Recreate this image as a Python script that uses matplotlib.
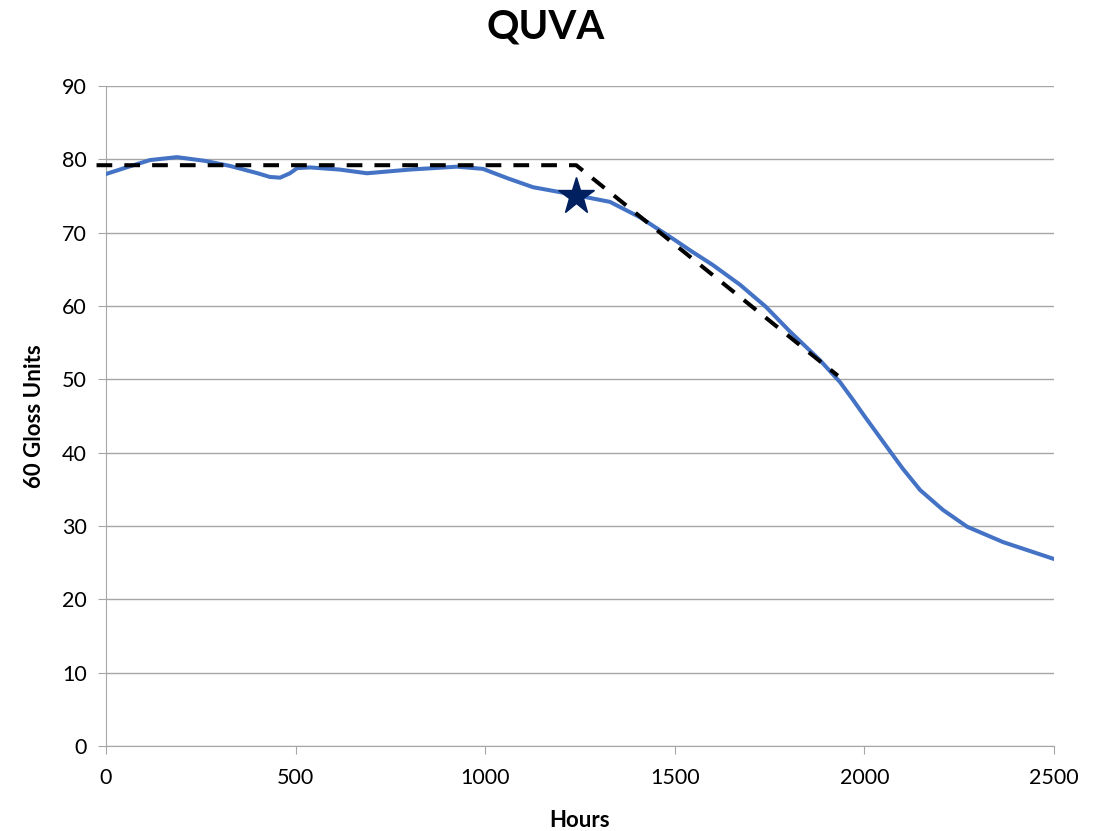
import matplotlib
matplotlib.use("Agg")
import matplotlib.pyplot as plt

plt.rcParams['font.family'] = ['Lato', 'DejaVu Sans']

# gloss curve
hours = [0, 60, 116, 187, 260, 327, 400, 432, 459, 485, 504, 538, 617, 688,
         800, 925, 994, 1060, 1126, 1200, 1240, 1329, 1408, 1500, 1540, 1600,
         1672, 1740, 1804, 1883, 1936, 1970, 2000, 2059, 2100, 2147, 2207,
         2271, 2366, 2500]
gloss = [78.0, 79.0, 79.9, 80.3, 79.8, 79.1, 78.1, 77.6, 77.5, 78.1, 78.8,
         78.9, 78.6, 78.1, 78.6, 79.0, 78.7, 77.4, 76.2, 75.5, 75.1, 74.2,
         72.1, 69.0, 67.6, 65.6, 62.9, 59.9, 56.5, 52.6, 49.6, 47.2, 45.0,
         40.8, 37.9, 34.9, 32.2, 29.9, 27.8, 25.5]

# dashed trend guide
trend_x = [-25, 1240, 1930]
trend_y = [79.2, 79.2, 50.5]

# star marker
star_x = [1240]
star_y = [75.0]

fig = plt.figure(figsize=(11.09, 8.31), dpi=100)
ax = fig.add_axes([0.0956, 0.1023, 0.8548, 0.7942])

ax.plot(hours, gloss, color='#4472C4', lw=2.9, solid_joinstyle='round',
        solid_capstyle='round', zorder=3)
ax.plot(trend_x, trend_y, color='black', lw=2.9, dashes=(3.9, 3.0),
        clip_on=False, zorder=4)
ax.plot(star_x, star_y, marker='*', color='#002060', markersize=28,
        ls='none', zorder=5)

ax.set_xlim(0, 2500)
ax.set_ylim(0, 90)
ax.set_xticks(range(0, 2501, 500))
ax.set_yticks(range(0, 91, 10))
ax.grid(axis='y', color='#a6a6a6', lw=1)
ax.set_axisbelow(True)
for s in ['top', 'right']:
    ax.spines[s].set_visible(False)
for s in ['left', 'bottom']:
    ax.spines[s].set_color('#a6a6a6')
ax.tick_params(axis='both', colors='#a6a6a6', labelcolor='black',
               labelsize=15.5, length=6)
ax.tick_params(axis='x', pad=10)
ax.tick_params(axis='y', pad=8)

ax.set_xlabel('Hours', fontsize=16, fontweight='bold', labelpad=16)
ax.set_ylabel('60 Gloss Units', fontsize=16, fontweight='bold', labelpad=12)
fig.text(0.492, 0.967, 'QUVA', fontsize=29, fontweight='bold',
         ha='center', va='center')

fig.savefig('out.png', dpi=100)
